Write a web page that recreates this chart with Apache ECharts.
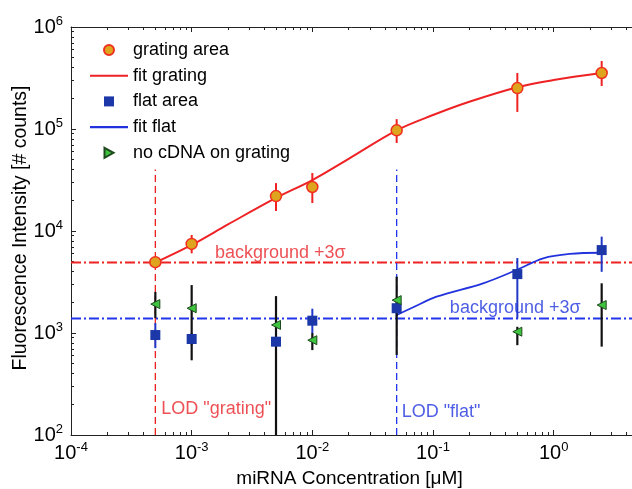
<!DOCTYPE html>
<html>
<head>
<meta charset="utf-8">
<style>
  html, body { margin: 0; padding: 0; background: #fff; }
  #chart { width: 632px; height: 489px; }
</style>
<script src="https://cdn.jsdelivr.net/npm/echarts@6/dist/echarts.min.js"></script>
</head>
<body>
<div id="chart"></div>
<script>
// miRNA concentration [uM]
var conc = [5e-4, 1e-3, 5e-3, 1e-2, 5e-2, 0.5, 2.5];

// grating area
var grating   = [4950, 7470, 22000, 27000, 97000, 252000, 354000];
var gratingHi = [5600, 9140, 29500, 37000, 125000, 354000, 464000];
var gratingLo = [4400, 6040, 15700, 18800, 73000, 147000, 264000];

// flat area
var flat   = [955, 873, 822, 1320, 1750, 3780, 6500];
var flatHi = [1250, 1000, 900, 1730, 2100, 5430, 8800];
var flatLo = [710, 760, 750, 1000, 1450, 1390, 3980];

// no cDNA on grating
var noc   = [1920, 1750, 1200, 850, 2100, 1030, 1880];
var nocHi = [2530, 2950, 2300, 1000, 3570, 1150, 3070];
var nocLo = [1400, 540, 60, 680, 610, 760, 735];

// fit curves
var fitGratingX = [5e-4, 1e-3, 2e-3, 5e-3, 1e-2, 2e-2, 5e-2, 0.1, 0.2, 0.5, 1, 2.5];
var fitGratingY = [4900, 7300, 11600, 21100, 31600, 51000, 97000, 137000, 185000, 257000, 302000, 354000];
var fitFlatX = [0.05, 0.0686, 0.107, 0.26, 0.493, 0.82, 1.36, 2.5];
var fitFlatY = [1500, 1790, 2270, 3070, 4150, 5400, 5960, 6120];

// background +3 sigma levels and LOD
var bgGrating = 4900;
var bgFlat = 1390;
var lodGrating = 5e-4;
var lodFlat = 0.05;
var lodTop = 40000;

// axes
var xMin = 1e-4, xMax = 5;
var yMin = 1e2, yMax = 1e6;
var xMajor = [1e-4, 1e-3, 1e-2, 1e-1, 1];
var yMajor = [1e2, 1e3, 1e4, 1e5, 1e6];

// annotations
var noteText = ['background +3\u03c3', 'background +3\u03c3', 'LOD "grating"', 'LOD "flat"'];
var noteX = [1.56e-3, 0.138, 5.6e-4, 0.055];
var noteY = [6080, 1760, 180, 169];
var noteColor = ['#e8262a', '#2236dd', '#e8262a', '#2236dd'];

function minors(e0, e1, max) {
    var out = [];
    for (var e = e0; e <= e1; e++) {
        for (var k = 2; k < 10; k++) {
            var v = k * Math.pow(10, e);
            if (v <= max) out.push(v);
        }
    }
    return out;
}
var xMinor = minors(-4, 0, xMax);
var yMinor = minors(2, 5, yMax);

var FONT = 'Arial';

var powLabel = {
    formatter: function (v) {
        return '{b|10}{s|' + Math.round(Math.log10(v)) + '}';
    },
    rich: {
        b: { fontSize: 20, fontFamily: FONT, color: '#000' },
        s: { fontSize: 13, fontFamily: FONT, color: '#000', padding: [0, 0, 12, 0] }
    }
};

function axis(kind, pos, grid, ticks, len, extra) {
    var a = {
        type: 'log',
        gridIndex: grid,
        position: pos,
        min: kind === 'x' ? xMin : yMin,
        max: kind === 'x' ? xMax : yMax,
        axisLine: { show: grid === 0, onZero: false, lineStyle: { color: '#222', width: 1 } },
        axisTick: { show: true, inside: true, length: len, customValues: ticks, lineStyle: { color: '#222', width: 1 } },
        axisLabel: { show: false },
        splitLine: { show: false }
    };
    for (var k in extra) a[k] = extra[k];
    return a;
}

function errData(lo, hi) {
    return conc.map(function (c, i) { return [c, lo[i], hi[i]]; });
}

function errBar(color, width, z) {
    return {
        type: 'custom',
        xAxisIndex: 0,
        yAxisIndex: 0,
        clip: true,
        z: z,
        silent: true,
        encode: { x: 0, y: [1, 2] },
        renderItem: function (params, api) {
            var p1 = api.coord([api.value(0), api.value(1)]);
            var p2 = api.coord([api.value(0), api.value(2)]);
            return {
                type: 'line',
                shape: { x1: p1[0], y1: p1[1], x2: p2[0], y2: p2[1] },
                style: { stroke: color, lineWidth: width }
            };
        }
    };
}

function pairs(xs, ys) {
    return xs.map(function (x, i) { return [x, ys[i]]; });
}

var chart = echarts.init(document.getElementById('chart'));

var gridBox = { left: 71, top: 27, right: -6, bottom: 54, outerBoundsMode: 'none', containLabel: false };

var series = [
    // reference lines
    {
        type: 'line', symbol: 'none', silent: true, z: 1,
        data: [[xMin, bgGrating], [xMax, bgGrating]],
        lineStyle: { color: '#ee2222', width: 2, type: [10, 3, 2, 3] }
    },
    {
        type: 'line', symbol: 'none', silent: true, z: 1,
        data: [[xMin, bgFlat], [xMax, bgFlat]],
        lineStyle: { color: '#2236ee', width: 2, type: [10, 3, 2, 3] }
    },
    {
        type: 'line', symbol: 'none', silent: true, z: 1,
        data: [[lodGrating, yMin], [lodGrating, lodTop]],
        lineStyle: { color: '#ee2222', width: 1.3, type: [7, 4] }
    },
    {
        type: 'line', symbol: 'none', silent: true, z: 1,
        data: [[lodFlat, yMin], [lodFlat, lodTop]],
        lineStyle: { color: '#2236ee', width: 1.3, type: [7, 4] }
    },
    // fits
    {
        name: 'fit grating', type: 'line', symbol: 'none', smooth: 0.35, z: 3,
        data: pairs(fitGratingX, fitGratingY),
        lineStyle: { color: '#ee2224', width: 2 },
        itemStyle: { color: '#ee2224' }
    },
    {
        name: 'fit flat', type: 'line', symbol: 'none', smooth: 0.35, z: 3,
        data: pairs(fitFlatX, fitFlatY),
        lineStyle: { color: '#2233dd', width: 1.8 },
        itemStyle: { color: '#2233dd' }
    },
    // error bars
    errBar('#1f38c8', 2, 2),
    errBar('#111111', 2.2, 4),
    errBar('#ee2222', 2, 4),
    // points
    {
        name: 'flat area', type: 'scatter', symbol: 'rect', symbolSize: 10, z: 5,
        data: pairs(conc, flat),
        itemStyle: { color: '#1c37a8', opacity: 1 }
    },
    {
        name: 'no cDNA on grating', type: 'scatter', symbol: 'triangle', symbolRotate: 90, symbolSize: 9, z: 6,
        data: pairs(conc, noc),
        itemStyle: { color: '#3ec43e', borderColor: '#1e4a1e', borderWidth: 1, opacity: 1 }
    },
    {
        name: 'grating area', type: 'scatter', symbol: 'circle', symbolSize: 11, z: 6,
        data: pairs(conc, grating),
        itemStyle: { color: '#dfa41e', borderColor: '#f0301e', borderWidth: 1.5, opacity: 1 }
    },
    // annotations
    {
        type: 'scatter', symbolSize: 0, silent: true, z: 7,
        data: noteText.map(function (t, i) {
            return {
                value: [noteX[i], noteY[i]],
                label: {
                    show: true, position: [0, 0], align: 'left', verticalAlign: 'middle',
                    formatter: t, color: noteColor[i], fontSize: 18, fontFamily: FONT
                }
            };
        })
    }
];
series[6].data = errData(flatLo, flatHi);
series[7].data = errData(nocLo, nocHi);
series[8].data = errData(gratingLo, gratingHi);

var lineIcon = 'path://M0,0H40V2.2H0Z';

var option = {
    animation: false,
    backgroundColor: '#fff',
    grid: [gridBox, gridBox],
    legend: {
        orient: 'vertical',
        left: 85,
        top: 35,
        itemWidth: 38,
        itemHeight: 10,
        itemGap: 5.7,
        textStyle: { fontSize: 18, fontFamily: FONT, color: '#000', lineHeight: 20 },
        data: [
            { name: 'grating area', icon: 'circle' },
            { name: 'fit grating', icon: lineIcon },
            { name: 'flat area', icon: 'path://M0,0H10V10H0Z' },
            { name: 'fit flat', icon: lineIcon },
            { name: 'no cDNA on grating', icon: 'path://M0,0L9,5L0,10Z' }
        ]
    },
    // y axis title
    graphic: [{
        type: 'text',
        x: 21,
        y: 228,
        rotation: Math.PI / 2,
        style: {
            text: 'Fluorescence Intensity [# counts]',
            font: '19.5px Arial',
            fill: '#000',
            align: 'center',
            verticalAlign: 'middle'
        }
    }],
    xAxis: [
        axis('x', 'bottom', 0, xMajor, 5, {
            axisLabel: {
                show: true, customValues: xMajor, margin: 6,
                formatter: powLabel.formatter, rich: powLabel.rich
            },
            name: 'miRNA Concentration [\u03bcM]',
            nameLocation: 'middle',
            nameGap: 34,
            nameMoveOverlap: false,
            nameTextStyle: { fontSize: 19, fontFamily: FONT, color: '#000', padding: [0, 10, 0, 0] }
        }),
        axis('x', 'top', 0, xMajor, 5, {}),
        axis('x', 'bottom', 1, xMinor, 3, {}),
        axis('x', 'top', 1, xMinor, 3, {})
    ],
    yAxis: [
        axis('y', 'left', 0, yMajor, 5, {
            axisLabel: {
                show: true, customValues: yMajor, margin: 8,
                formatter: powLabel.formatter, rich: powLabel.rich
            }
        }),
        axis('y', 'right', 0, yMajor, 5, {}),
        axis('y', 'left', 1, yMinor, 3, {}),
        axis('y', 'right', 1, yMinor, 3, {})
    ],
    series: series
};

chart.setOption(option);
</script>
</body>
</html>
